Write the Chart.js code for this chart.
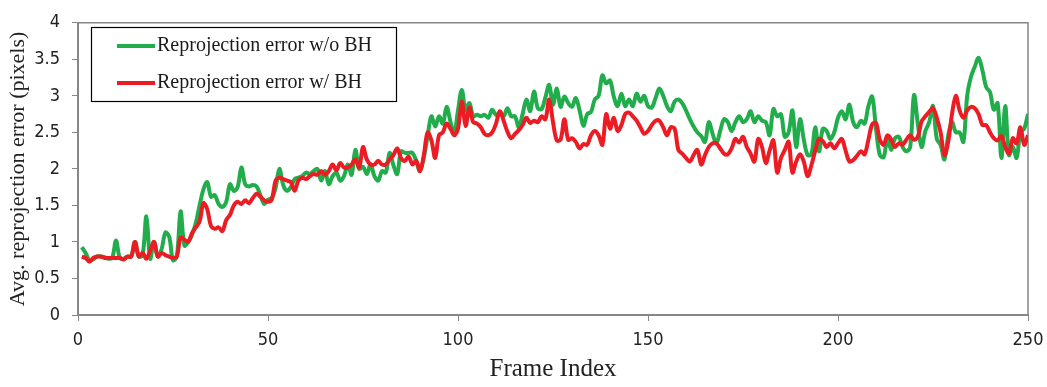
<!DOCTYPE html>
<html lang="en">
<head>
    <meta charset="UTF-8">
    <title>Reprojection error</title>
    <script src="https://cdn.jsdelivr.net/npm/chart.js"></script>
    <style>
        * { margin: 0; padding: 0; box-sizing: border-box; }
        body { background: #fff; width: 1047px; height: 387px; overflow: hidden; }
        .wrap { position: relative; width: 1047px; height: 387px; }
    </style>
</head>
<body>
    <div class="wrap">
        <canvas id="errChart"></canvas>
    </div>

    <script>
        // frame index runs 1..250
        const seriesNames = ['Reprojection error w/o BH', 'Reprojection error w/ BH'];
        const xTicks = [0, 50, 100, 150, 200, 250];

        // without bundle adjustment (green)
        const errNoBH = [
            0.93, 0.85, 0.75, 0.76, 0.8, 0.8, 0.79, 0.77, 0.78, 1.02,
            0.78, 0.77, 0.8, 0.8, 1.0, 0.8, 0.82, 1.35, 0.77, 1.0,
            0.8, 0.9, 1.13, 1.07, 0.75, 0.8, 1.42, 0.95, 1.0, 1.1,
            1.26, 1.5, 1.72, 1.82, 1.62, 1.64, 1.52, 1.48, 1.55, 1.79,
            1.7, 1.75, 2.02, 1.79, 1.76, 1.78, 1.76, 1.64, 1.52, 1.58,
            1.6, 1.74, 2.0, 1.78, 1.7, 1.75, 1.86, 1.88, 1.9, 1.95,
            1.93, 1.97, 2.0, 1.84, 1.97, 1.79, 1.9, 1.95, 1.84, 1.9,
            2.06, 1.92, 2.26, 2.0, 2.03, 1.93, 2.06, 1.9, 1.84, 1.97,
            1.95, 2.22, 2.05, 1.93, 2.24, 2.22, 2.22, 2.22, 2.11, 1.97,
            2.15, 2.45, 2.72, 2.58, 2.72, 2.62, 2.85, 2.65, 2.48, 2.8,
            3.08, 2.8, 2.9, 2.72, 2.74, 2.72, 2.74, 2.7, 2.81, 2.74,
            2.76, 2.72, 2.83, 2.72, 2.72, 2.57, 2.75, 2.95, 2.79, 3.06,
            2.83, 2.82, 2.98, 3.15, 2.88, 3.1, 2.85, 2.99, 2.9, 2.85,
            2.97, 2.8, 2.59, 2.75, 2.78, 2.95, 3.0, 3.28, 3.17, 3.21,
            2.99, 2.86, 3.03, 2.86, 2.95, 2.86, 3.03, 2.92, 3.0, 2.86,
            2.84, 2.97, 3.1, 3.0, 2.86, 2.79, 2.92, 2.95, 2.9, 2.8,
            2.68, 2.58, 2.5, 2.45, 2.37, 2.64, 2.48, 2.35, 2.52, 2.68,
            2.64, 2.52, 2.64, 2.72, 2.64, 2.68, 2.79, 2.64, 2.72, 2.66,
            2.64, 2.46, 2.82, 2.72, 2.75, 2.44, 2.5, 2.8, 2.3, 2.68,
            2.4, 2.19, 2.2, 2.57, 2.24, 2.55, 2.52, 2.41, 2.5, 2.7,
            2.79, 2.68, 2.88, 2.64, 2.57, 2.66, 2.62, 2.86, 2.99, 2.55,
            2.19, 2.16, 2.42, 2.26, 2.42, 2.44, 2.3, 2.24, 2.3, 3.01,
            2.62, 2.3, 2.52, 2.64, 2.86, 2.41, 2.33, 2.13, 2.46, 2.64,
            2.5, 2.5, 2.37, 3.0, 3.26, 3.4, 3.52, 3.35, 3.12, 3.05,
            2.81, 2.9, 2.15, 2.86, 2.19, 2.3, 2.15, 2.5, 2.55, 2.75
        ];

        // with bundle adjustment (red)
        const errBH = [
            0.8, 0.78, 0.73, 0.78, 0.8, 0.8, 0.78, 0.78, 0.78, 0.78,
            0.78, 0.76, 0.8, 0.8, 1.0, 0.8, 0.85, 0.77, 0.88, 1.0,
            0.8, 0.85, 0.82, 0.8, 0.78, 0.8, 1.06, 1.03, 1.0, 1.12,
            1.2, 1.28, 1.53, 1.45, 1.22, 1.18, 1.2, 1.15, 1.3, 1.37,
            1.5, 1.55, 1.52, 1.57, 1.53, 1.6, 1.66, 1.62, 1.57, 1.55,
            1.58, 1.84, 1.88, 1.86, 1.84, 1.82, 1.7, 1.84, 1.88, 1.86,
            1.9, 1.93, 1.92, 1.97, 1.92, 1.97, 2.06, 1.98, 2.08, 2.02,
            2.02, 2.06, 2.13, 2.02, 2.3, 2.13, 2.06, 2.06, 2.11, 2.06,
            2.06, 2.13, 2.19, 2.28, 2.15, 2.11, 2.17, 2.06, 2.11, 1.97,
            2.19, 2.5, 2.39, 2.15, 2.46, 2.5, 2.62, 2.55, 2.46, 2.55,
            2.92, 2.59, 2.84, 2.64, 2.62, 2.57, 2.48, 2.46, 2.5, 2.62,
            2.79, 2.66, 2.51, 2.42, 2.48, 2.53, 2.6, 2.7, 2.63, 2.66,
            2.64, 2.72, 2.68, 2.95, 2.64, 2.39, 2.4, 2.68, 2.4, 2.42,
            2.37, 2.28, 2.34, 2.33, 2.46, 2.52, 2.46, 2.33, 2.75, 2.55,
            2.7, 2.52, 2.6, 2.75, 2.77, 2.72, 2.66, 2.57, 2.48, 2.52,
            2.6, 2.66, 2.66, 2.57, 2.46, 2.57, 2.55, 2.26, 2.21, 2.15,
            2.1, 2.19, 2.26, 2.06, 2.19, 2.3, 2.35, 2.35, 2.28, 2.21,
            2.2, 2.28, 2.41, 2.36, 2.44, 2.3, 2.21, 2.1, 2.41, 2.3,
            2.08, 2.25, 2.39, 1.95, 2.15, 2.26, 2.37, 1.95, 2.1, 2.2,
            2.1, 1.9, 2.05, 2.25, 2.41, 2.38, 2.3, 2.35, 2.28, 2.35,
            2.41, 2.25, 2.1, 2.12, 2.18, 2.24, 2.2, 2.4, 2.61, 2.63,
            2.4, 2.33, 2.46, 2.4, 2.3, 2.35, 2.33, 2.4, 2.46, 2.4,
            2.44, 2.65, 2.72, 2.78, 2.83, 2.7, 2.5, 2.19, 2.37, 2.75,
            3.0, 2.8, 2.7, 2.8, 2.85, 2.83, 2.75, 2.6, 2.6, 2.5,
            2.42, 2.39, 2.45, 2.3, 2.21, 2.42, 2.35, 2.57, 2.33, 2.46
        ];

        const GREEN = '#21ad4b';
        const RED = '#ec1c24';
        const AXIS = '#868686';
        const tickFont = "'Liberation Sans Narrow', 'DejaVu Sans Condensed', 'Arial Narrow', sans-serif";
        const serif = "'Liberation Serif', 'Times New Roman', serif";

        const toPoints = arr => arr.map((v, i) => ({ x: i + 1, y: v }));

        // top + right edges of the plot frame
        const framePlugin = {
            id: 'frame',
            beforeDatasetsDraw(chart) {
                const a = chart.chartArea, c = chart.ctx;
                c.save();
                c.strokeStyle = AXIS;
                c.lineWidth = 1.5;
                c.beginPath();
                c.moveTo(a.left, a.top);
                c.lineTo(a.right, a.top);
                c.lineTo(a.right, a.bottom);
                c.stroke();
                c.restore();
            }
        };

        // boxed legend in the upper-left corner of the plot
        const boxLegend = {
            id: 'boxLegend',
            afterDraw(chart) {
                const c = chart.ctx;
                const colors = [GREEN, RED];
                c.save();
                c.fillStyle = '#fff';
                c.fillRect(91, 27, 305, 74);
                c.strokeStyle = '#000';
                c.lineWidth = 1.2;
                c.strokeRect(91.5, 27.5, 305, 74);
                c.font = '20px ' + serif;
                c.textBaseline = 'middle';
                seriesNames.forEach((name, i) => {
                    const y = 46 + i * 37;
                    c.strokeStyle = colors[i];
                    c.lineWidth = 4;
                    c.beginPath();
                    c.moveTo(117, y);
                    c.lineTo(155, y);
                    c.stroke();
                    c.fillStyle = '#1a1a1a';
                    c.fillText(name, 157, y);
                });
                c.restore();
            }
        };

        new Chart(document.getElementById('errChart'), {
            type: 'line',
            data: {
                datasets: [
                    {
                        label: seriesNames[0],
                        data: toPoints(errNoBH),
                        borderColor: GREEN,
                        borderWidth: 4,
                        pointRadius: 0,
                        tension: 0.35,
                        order: 2
                    },
                    {
                        label: seriesNames[1],
                        data: toPoints(errBH),
                        borderColor: RED,
                        borderWidth: 4,
                        pointRadius: 0,
                        tension: 0.35,
                        order: 1
                    }
                ]
            },
            options: {
                responsive: true,
                maintainAspectRatio: false,
                animation: false,
                layout: { padding: { top: 14, right: 19, left: 0, bottom: 0 } },
                plugins: {
                    legend: { display: false },
                    tooltip: { enabled: false }
                },
                scales: {
                    x: {
                        type: 'linear',
                        min: 0,
                        max: 250,
                        afterBuildTicks: s => { s.ticks = xTicks.map(v => ({ value: v })); },
                        afterFit: s => {
                            s.height = 72;
                            s.paddingLeft = 0;
                            s.paddingRight = 0;
                        },
                        grid: { drawOnChartArea: false, drawTicks: true, tickLength: 6, color: AXIS },
                        border: { color: AXIS, width: 2 },
                        ticks: {
                            color: '#222',
                            padding: 9,
                            maxRotation: 0,
                            font: { family: tickFont, size: 18 }
                        },
                        title: {
                            display: true,
                            text: 'Frame Index',
                            color: '#222',
                            padding: { top: 0, bottom: 3 },
                            font: { family: serif, size: 25 }
                        }
                    },
                    y: {
                        min: 0,
                        max: 4,
                        afterFit: s => { s.width = 78; },
                        grid: { drawOnChartArea: false, drawTicks: true, tickLength: 6, color: AXIS },
                        border: { color: AXIS, width: 2 },
                        ticks: {
                            stepSize: 0.5,
                            color: '#222',
                            padding: 12,
                            font: { family: tickFont, size: 18 },
                            callback: v => String(v)
                        },
                        title: {
                            display: true,
                            text: 'Avg. reprojection error (pixels)',
                            color: '#222',
                            padding: { top: 5, bottom: 0 },
                            font: { family: serif, size: 22 }
                        }
                    }
                }
            },
            plugins: [framePlugin, boxLegend]
        });
    </script>
</body>
</html>
